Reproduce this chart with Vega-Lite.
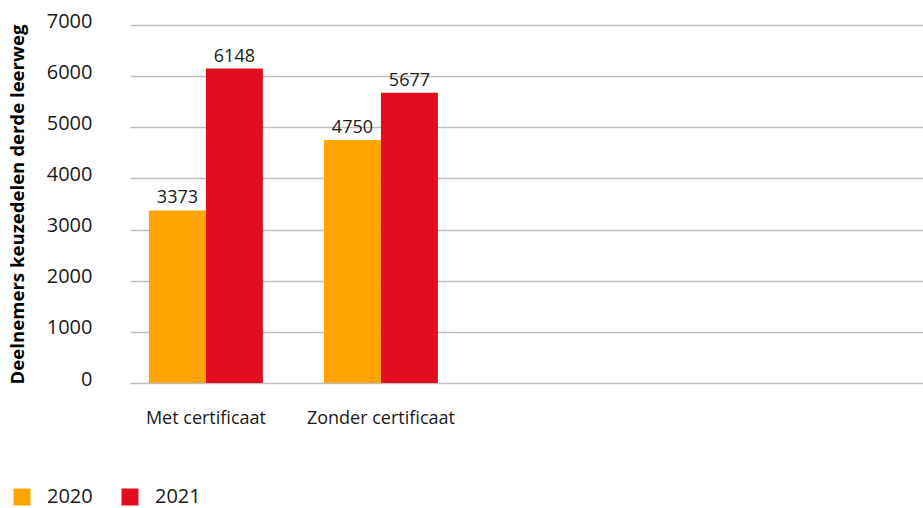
{
  "$schema": "https://vega.github.io/schema/vega-lite/v6.json",
  "width": 793,
  "height": 358,
  "autosize": {"type": "none"},
  "padding": {"left": 130, "top": 25, "right": 0, "bottom": 125},
  "background": "white",
  "config": {
    "font": "Open Sans",
    "view": {"stroke": null}
  },
  "data": {
    "values": [
      {"cat": "Met certificaat", "year": "2020", "value": 3373},
      {"cat": "Met certificaat", "year": "2021", "value": 6148},
      {"cat": "Zonder certificaat", "year": "2020", "value": 4750},
      {"cat": "Zonder certificaat", "year": "2021", "value": 5677}
    ]
  },
  "encoding": {
    "x": {
      "field": "cat",
      "type": "nominal",
      "sort": null,
      "scale": {
        "domain": ["Met certificaat", "Zonder certificaat", " ", "  "],
        "paddingInner": 0.349,
        "paddingOuter": 0.44,
        "align": 0.123
      },
      "axis": {
        "title": null,
        "labelAngle": 0,
        "domain": false,
        "ticks": false,
        "labelFontSize": 18,
        "labelColor": "#1a1a1a",
        "labelPadding": 26,
        "labelBaseline": "top"
      }
    },
    "xOffset": {"field": "year", "type": "nominal", "scale": {"paddingInner": 0}},
    "y": {
      "field": "value",
      "type": "quantitative",
      "scale": {"domain": [0, 7000]},
      "axis": {
        "title": "Deelnemers keuzedelen derde leerweg",
        "titleFontSize": 18.6,
        "titleFontWeight": "bold",
        "titleColor": "#000000",
        "titlePadding": 19,
        "values": [0, 1000, 2000, 3000, 4000, 5000, 6000, 7000],
        "format": "d",
        "labelFontSize": 20,
        "labelColor": "#1a1a1a",
        "labelPadding": 38,
        "labelBaseline": "alphabetic",
        "labelOffset": 2,
        "domain": false,
        "ticks": false,
        "grid": true,
        "gridColor": "#bfbfbf",
        "gridWidth": 1.5
      }
    }
  },
  "layer": [
    {
      "mark": {"type": "bar"},
      "encoding": {
        "color": {
          "field": "year",
          "type": "nominal",
          "scale": {"domain": ["2020", "2021"], "range": ["#FFA400", "#E00E1E"]},
          "legend": {
            "title": null,
            "orient": "none",
            "direction": "horizontal",
            "legendX": -118,
            "legendY": 462,
            "symbolType": "square",
            "symbolSize": 289,
            "symbolStrokeWidth": 0,
            "labelFontSize": 20,
            "labelColor": "#1a1a1a",
            "labelOffset": 15,
            "columnPadding": 27
          }
        }
      }
    },
    {
      "mark": {"type": "text", "baseline": "alphabetic", "dy": -7, "fontSize": 18, "color": "#1a1a1a"},
      "encoding": {
        "text": {"field": "value", "type": "quantitative", "format": "d"}
      }
    }
  ]
}
